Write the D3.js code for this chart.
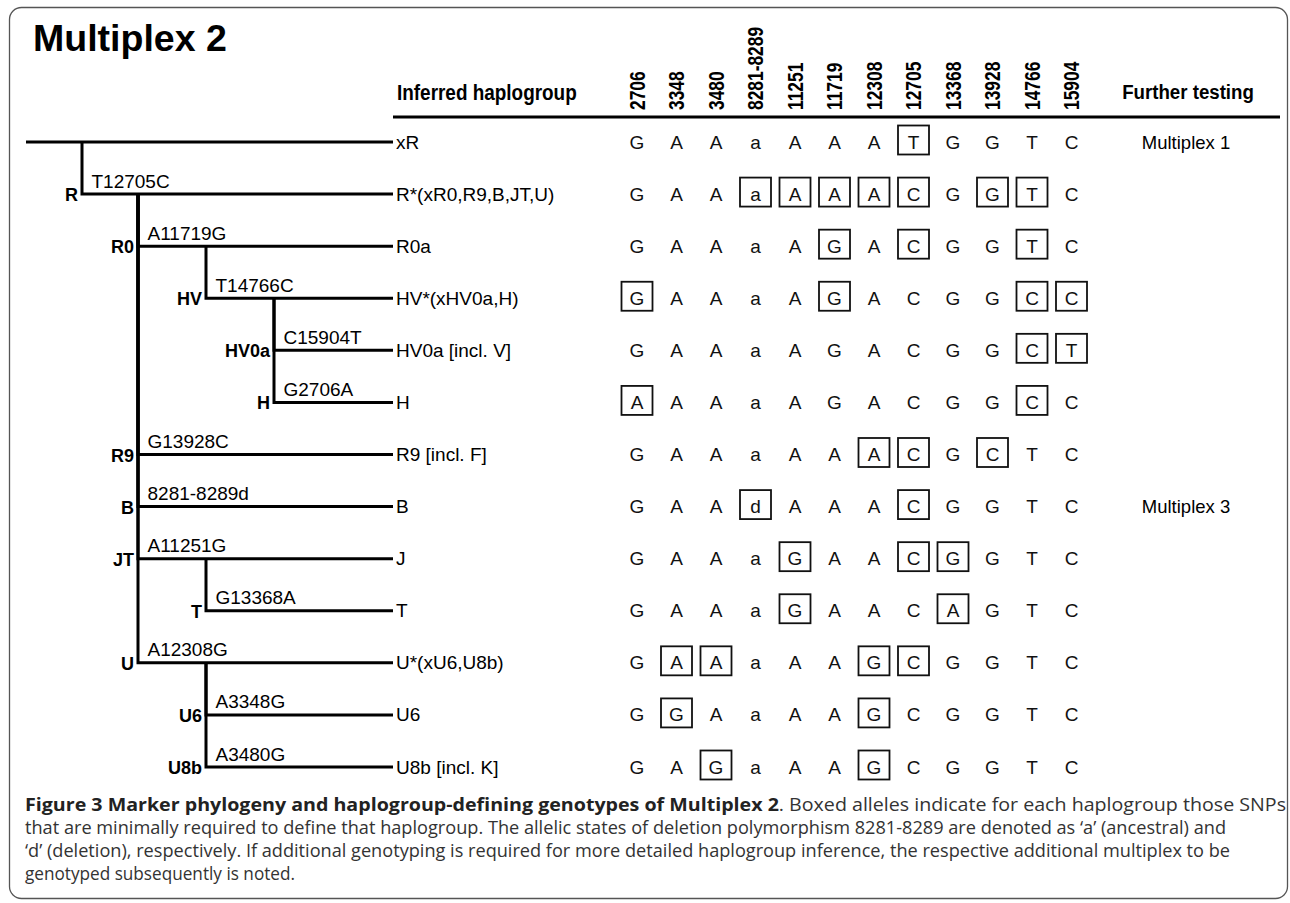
<!DOCTYPE html>
<html><head><meta charset="utf-8">
<script src="https://cdn.jsdelivr.net/npm/d3@7/dist/d3.min.js"></script>
<style>
html,body{margin:0;padding:0;background:#fff;}
svg{display:block;}
</style></head><body>
<svg id="chart" width="1290" height="903"></svg>
<script>
// ---------------- data ----------------
const titleText = "Multiplex 2";
const markers = ["2706","3348","3480","8281-8289","11251","11719","12308","12705","13368","13928","14766","15904"];
const haplogroups = ["xR","R*(xR0,R9,B,JT,U)","R0a","HV*(xHV0a,H)","HV0a [incl. V]","H","R9 [incl. F]","B","J","T","U*(xU6,U8b)","U6","U8b [incl. K]"];
const genotypes = [
  ["G","A","A","a","A","A","A","T","G","G","T","C"],
  ["G","A","A","a","A","A","A","C","G","G","T","C"],
  ["G","A","A","a","A","G","A","C","G","G","T","C"],
  ["G","A","A","a","A","G","A","C","G","G","C","C"],
  ["G","A","A","a","A","G","A","C","G","G","C","T"],
  ["A","A","A","a","A","G","A","C","G","G","C","C"],
  ["G","A","A","a","A","A","A","C","G","C","T","C"],
  ["G","A","A","d","A","A","A","C","G","G","T","C"],
  ["G","A","A","a","G","A","A","C","G","G","T","C"],
  ["G","A","A","a","G","A","A","C","A","G","T","C"],
  ["G","A","A","a","A","A","G","C","G","G","T","C"],
  ["G","G","A","a","A","A","G","C","G","G","T","C"],
  ["G","A","G","a","A","A","G","C","G","G","T","C"]
];
const boxed = [
  [0,0,0,0,0,0,0,1,0,0,0,0],
  [0,0,0,1,1,1,1,1,0,1,1,0],
  [0,0,0,0,0,1,0,1,0,0,1,0],
  [1,0,0,0,0,1,0,0,0,0,1,1],
  [0,0,0,0,0,0,0,0,0,0,1,1],
  [1,0,0,0,0,0,0,0,0,0,1,0],
  [0,0,0,0,0,0,1,1,0,1,0,0],
  [0,0,0,1,0,0,0,1,0,0,0,0],
  [0,0,0,0,1,0,0,1,1,0,0,0],
  [0,0,0,0,1,0,0,0,1,0,0,0],
  [0,1,1,0,0,0,1,1,0,0,0,0],
  [0,1,0,0,0,0,1,0,0,0,0,0],
  [0,0,1,0,0,0,1,0,0,0,0,0]
];
const furtherTesting = ["Multiplex 1","","","","","","","Multiplex 3","","","","",""];
const branchNodes = ["R","R0","HV","HV0a","H","R9","B","JT","T","U","U6","U8b"];
const branchMutations = ["T12705C","A11719G","T14766C","C15904T","G2706A","G13928C","8281-8289d","A11251G","G13368A","A12308G","A3348G","A3480G"];
const branchLevels = [1,2,3,4,4,2,2,2,3,2,3,3];
const branchRows = [1,2,3,4,5,6,7,8,9,10,11,12];
const branchParentRows = [0,1,2,3,3,1,1,1,8,1,10,10];
const headerLeft = "Inferred haplogroup";
const headerRight = "Further testing";
const captionBold = "Figure 3 Marker phylogeny and haplogroup-defining genotypes of Multiplex 2";
const captionLines = [
  ". Boxed alleles indicate for each haplogroup those SNPs",
  "that are minimally required to define that haplogroup. The allelic states of deletion polymorphism 8281-8289 are denoted as \u2018a\u2019 (ancestral) and",
  "\u2018d\u2019 (deletion), respectively. If additional genotyping is required for more detailed haplogroup inference, the respective additional multiplex to be",
  "genotyped subsequently is noted."
];

// ---------------- layout ----------------
const svg = d3.select("#chart");
const FONT = "'Liberation Sans', Arial, Helvetica, sans-serif";
const CAPFONT = "'Open Sans', 'Noto Sans', sans-serif";

const y = d3.scalePoint().domain(d3.range(haplogroups.length)).range([142, 767]);
const x = d3.scalePoint().domain(markers).range([637, 1071.5]);
const lx = d3.scaleOrdinal().domain([0,1,2,3,4]).range([26, 82, 138, 206, 274]);
const leafX = 393;

// frame
svg.append("rect").attr("x", 9.5).attr("y", 7.5).attr("width", 1278).attr("height", 891)
  .attr("rx", 12).attr("fill", "none").attr("stroke", "#555").attr("stroke-width", 1.3);

// title
svg.append("text").attr("x", 33).attr("y", 51).attr("font-family", FONT)
  .attr("font-weight", "bold").attr("font-size", 37.5).attr("fill", "#000").text(titleText);

// headers
svg.append("text").attr("transform", "translate(397,100) scale(0.88,1)")
  .attr("font-family", FONT).attr("font-weight", "bold").attr("font-size", 21.5).text(headerLeft);
svg.append("text").attr("transform", "translate(1188,99) scale(0.89,1)")
  .attr("text-anchor", "middle")
  .attr("font-family", FONT).attr("font-weight", "bold").attr("font-size", 21).text(headerRight);

svg.append("g").selectAll("text").data(markers).join("text")
  .attr("transform", d => `translate(${x(d) + 7.9},110) rotate(-90) scale(0.79,1)`)
  .attr("font-family", FONT).attr("font-weight", "bold").attr("font-size", 22)
  .text(d => d);

svg.append("line").attr("x1", 393).attr("x2", 1280).attr("y1", 117).attr("y2", 117)
  .attr("stroke", "#000").attr("stroke-width", 3);

// tree
const tree = svg.append("g").attr("fill", "none").attr("stroke", "#000").attr("stroke-width", 3);
tree.append("path").attr("d", `M${lx(0)},${y(0)}H${leafX}`);
const branches = branchNodes.map((n, i) => ({node: n, mut: branchMutations[i], level: branchLevels[i], row: branchRows[i], parent: branchParentRows[i]}));
tree.selectAll("path.br").data(branches).join("path").attr("class", "br")
  .attr("stroke-linejoin", "miter")
  .attr("d", d => `M${lx(d.level)},${y(d.parent)}V${y(d.row)}H${leafX}`);

svg.append("g").selectAll("text").data(branches).join("text")
  .attr("x", d => lx(d.level) - 4).attr("y", d => y(d.row) + 7)
  .attr("text-anchor", "end").attr("font-family", FONT).attr("font-weight", "bold").attr("font-size", 18)
  .text(d => d.node);
svg.append("g").selectAll("text").data(branches).join("text")
  .attr("x", d => lx(d.level) + 9.5).attr("y", d => y(d.row) - 6.5)
  .attr("font-family", FONT).attr("font-size", 19)
  .text(d => d.mut);

// row labels
svg.append("g").selectAll("text").data(haplogroups).join("text")
  .attr("x", 396).attr("y", (d, i) => y(i) + 6.5)
  .attr("font-family", FONT).attr("font-size", 19).text(d => d);

// cells
const cells = [];
genotypes.forEach((row, i) => row.forEach((g, j) => cells.push({i, j, g, b: boxed[i][j]})));
svg.append("g").selectAll("text").data(cells).join("text")
  .attr("x", d => x(markers[d.j])).attr("y", d => y(d.i) + 6.5)
  .attr("text-anchor", "middle").attr("font-family", FONT).attr("font-size", 19)
  .attr("fill", "#111").text(d => d.g);
svg.append("g").selectAll("rect").data(cells.filter(d => d.b)).join("rect")
  .attr("x", d => x(markers[d.j]) - 15.5).attr("y", d => y(d.i) - 16.5)
  .attr("width", 31).attr("height", 29)
  .attr("fill", "none").attr("stroke", "#111").attr("stroke-width", 1.8);

// further testing
svg.append("g").selectAll("text").data(furtherTesting).join("text")
  .attr("x", 1186).attr("y", (d, i) => y(i) + 6.5)
  .attr("text-anchor", "middle").attr("font-family", FONT).attr("font-size", 18.5).text(d => d);

// caption
const capBase = [811, 834, 857, 880];
const capLen = [1261, 1201, 1205, 270];
const cap = svg.append("g").attr("font-family", CAPFONT).attr("font-size", 18).attr("fill", "#333");
captionLines.forEach((line, k) => {
  const t = cap.append("text").attr("x", 25).attr("y", capBase[k]);
  if (capLen[k]) t.attr("textLength", capLen[k]).attr("lengthAdjust", "spacingAndGlyphs");
  if (k === 0) {
    t.append("tspan").attr("font-weight", 700).attr("fill", "#222").text(captionBold);
  }
  t.append("tspan").text(line);
});
</script>
</body></html>
